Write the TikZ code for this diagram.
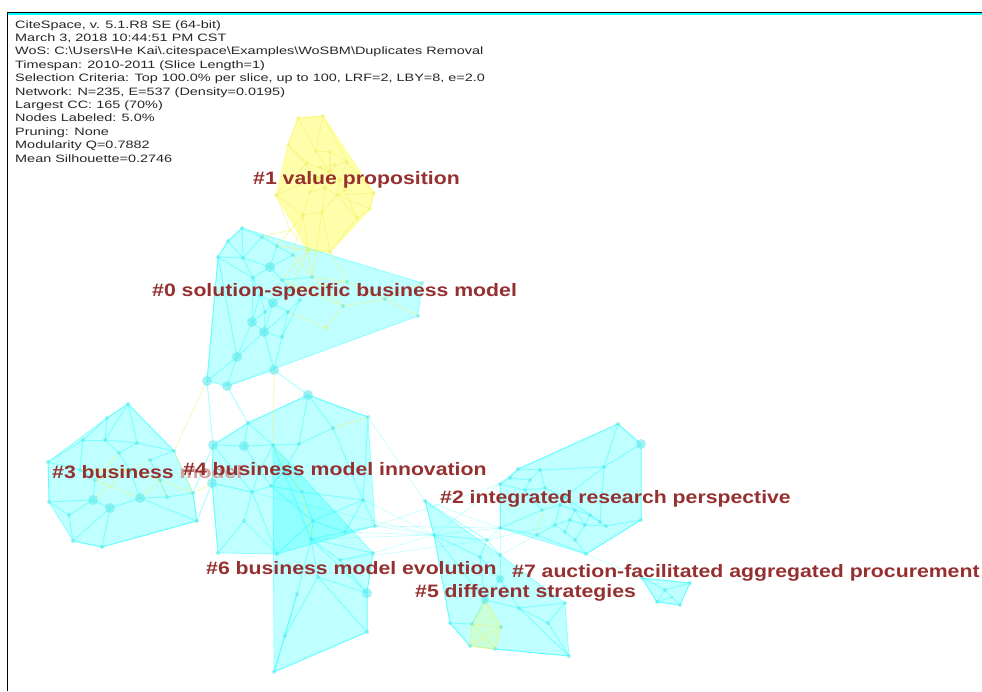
\documentclass[tikz,border=0pt]{standalone}
\usepackage{fontspec}
\setmainfont{Liberation Sans}
\definecolor{lblred}{RGB}{150,48,48}
\definecolor{cyn}{RGB}{0,255,255}
\definecolor{yel}{RGB}{255,255,0}
\definecolor{cnodec}{RGB}{90,230,235}
\definecolor{yedgec}{RGB}{240,240,110}
\definecolor{ynodec}{RGB}{240,240,100}
\begin{document}
\begin{tikzpicture}[x=1pt,y=-1pt,
  hullc/.style={fill=cyn, fill opacity=0.25, draw=cyn, draw opacity=0.35, line width=0.8pt, line join=round},
  hully/.style={fill=yel, fill opacity=0.33, draw=yel, draw opacity=0.35, line width=0.8pt, line join=round},
  hullys/.style={fill=yel, fill opacity=0.15, draw=yel, draw opacity=0.25, line width=0.8pt, line join=round},
  cedge/.style={draw=cyn, draw opacity=0.33, line width=1pt},
  fedge/.style={draw=cyn, draw opacity=0.22, line width=0.7pt},
  yedge/.style={draw=yedgec, draw opacity=0.4, line width=1.1pt},
  cnode/.style={fill=cnodec, fill opacity=0.55},
  ynode/.style={fill=ynodec, fill opacity=0.45},
  lbl/.style={font=\fontsize{18}{20}\selectfont\bfseries, text=lblred, anchor=base west, inner sep=0pt},
  info/.style={font=\fontsize{10.7}{13.4}\selectfont, text=black!85, anchor=base west, inner sep=0pt}]
\useasboundingbox (0,0) rectangle (982,691);
\newcommand{\wide}[1]{\scalebox{1.18}[1]{#1}}

% ---------- node positions ----------
\def\ynodes{y1/298/118/2, y2/323/116/2, y3/288/145/2, y4/316/151/2, y5/330/152/2, y6/347/162/2, y7/307/163/2, y8/330/172/3, y9/318/178/2.5, y10/340/180/2.5, y11/325/188/2, y12/337/195/2, y13/276/195/2, y14/374/193/2, y15/370/209/2, y16/357/218/2, y17/322/212/2, y18/303/215/2, y19/308/250/2, y20/330/252/2, y21/290/230/1.5, y22/335/165/2, y23/320/167/2, y24/345/190/2, y25/310/192/2, a26/326/328/2}
\def\cnodes{a1/242/228/2, a2/228/241/2, a3/262/237/2, a4/218/257/2, a5/243/258/2, a6/277/246/2, a7/293/255/2, a8/270/267/5, a9/253/278/2, a10/282/280/2, a11/312/277/2, a12/273/303/5, a13/288/312/2, a14/252/322/5, a15/264/332/5, a16/282/337/2, a17/237/357/5, a18/274/370/5, a19/207/381/5, a20/227/386/5, a21/343/306/2, a22/385/299/2, a23/422/283/2, a24/418/316/2, a25/347/282/2, a27/260/295/2, a28/290/290/2, a29/300/300/2, a30/265/312/2,
 b1/128/404/2, b2/107/418/2, b3/48/462/2, b4/49/502/2, b5/73/541/2, b6/102/547/2, b7/197/521/2, b8/174/451/2, b9/83/440/2, b10/105/440/2, b11/137/443/2, b12/119/453/2, b13/93/500/5, b14/110/508/5, b15/140/498/5, b16/69/515/2, b17/167/497/2, b18/193/493/2, b19/95/480/2, b20/130/470/2, b21/160/480/2, b22/150/460/2, b23/80/470/2,
 d1/213/445/5, d2/248/423/2, d3/308/395/5, d4/368/417/2, d5/375/526/2, d6/218/553/2, d7/244/446/5, d8/333/428/2, d9/273/445/2, d10/299/444/2, d11/252/492/2, d12/271/486/2, d13/302/492/2, d14/363/500/2, d15/244/521/2, d16/277/554/2, d17/313/521/2, d18/345/532/2, d19/212/483/5, d20/285/470/2, d21/260/470/2,
 e2/311/539/2, e3/318/577/2, e4/297/594/2, e5/285/636/2, e6/367/593/5, e7/367/632/2, e8/274/672/2, e9/373/553/2, e10/340/560/2,
 f1/518/469/2, f2/618/424/2, f3/641/444/5, f4/641/520/2, f5/586/554/2, f6/500/528/2, f7/500/484/2, f8/540/470/2, f9/510/478/2, f10/530/480/2, f11/525/490/2, f12/545/488/2, f13/565/497/2, f14/604/467/2, f15/560/505/2, f16/575/510/2, f17/590/515/2, f18/570/520/2, f19/555/525/2, f20/585/525/2, f21/600/522/2, f22/606/526/2, f23/575/540/2, f24/537/535/2, f25/565/532/2, f26/542/510/2,
 g1/425/501/2, g2/434/535/2, g3/450/623/2, g4/470/646/2, g5/569/656/2, g6/565/603/2, g7/487/540/2, g8/500/555/2, g9/480/557/2, g10/500/579/4, g11/485/600/4, g12/519/608/2, g13/548/623/2, g14/472/624/2, g15/501/627/2, g16/495/649/2,
 h1/642/578/2, h2/690/583/2, h3/680/605/2, h4/657/602/2, h5/665/590/2, h6/672/597/1.5}
\foreach \n/\x/\y/\r in \ynodes {\coordinate (\n) at (\x,\y);}
\foreach \n/\x/\y/\r in \cnodes {\coordinate (\n) at (\x,\y);}

% ---------- frame ----------
\draw[black, line width=1.6pt] (7.3,691) -- (7.3,12.3) -- (982,12.3);
\draw[cyn, line width=2pt] (8.2,14.4) -- (982,14.4);

% ---------- cluster hulls ----------
\filldraw[hully] (y1) -- (y2) -- (y14) -- (y15) -- (y20) -- (y19) -- (y13) -- (y3) -- cycle;
\filldraw[hullc] (a1) -- (a23) -- (a24) -- (a20) -- (a19) -- (a4) -- (a2) -- cycle;
\filldraw[hullc] (b1) -- (b8) -- (b18) -- (b7) -- (b6) -- (b5) -- (b4) -- (b3) -- (b2) -- cycle;
\filldraw[hullc] (d1) -- (d2) -- (d3) -- (d4) -- (d5) -- (d16) -- (d6) -- (d19) -- cycle;
\filldraw[hullc] (d9) -- (e9) -- (e6) -- (e7) -- (e8) -- cycle;
\filldraw[hullc] (f1) -- (f2) -- (f3) -- (f4) -- (f5) -- (f6) -- (f7) -- cycle;
\filldraw[hullc] (g1) -- (g8) -- (g6) -- (g5) -- (g16) -- (g4) -- (g3) -- (g2) -- cycle;
\filldraw[hullys] (g11) -- (g15) -- (g16) -- (g4) -- (g14) -- cycle;
\filldraw[hullc] (h1) -- (h2) -- (h3) -- (h4) -- cycle;

% ---------- edges ----------
\foreach \a/\b in {y1/y2, y1/y3, y2/y4, y1/y4, y2/y6, y3/y7, y4/y5, y5/y6, y7/y8, y4/y8, y5/y8, y6/y10, y8/y9, y8/y10, y9/y11, y10/y11, y11/y12, y10/y12, y9/y13, y13/y18, y12/y14, y12/y15, y14/y15, y15/y16, y16/y20, y17/y20, y17/y12, y18/y17, y18/y19, y19/y20, y13/y21, y21/y19, y11/y17, y3/y9, y6/y14, y16/y12, y7/y13, y22/y23, y22/y8, y23/y8, y22/y6, y24/y10, y24/y16, y25/y9, y25/y18, y24/y12, y25/y11,
  y19/a10, y19/a11, y20/a25, a25/a22, a22/a23, a22/a24, a11/a21, a21/a22, a21/a26, a11/a25, y18/a7, y17/a11, y19/a6, a7/a11, a28/a25, a10/a21, a13/a26, y21/a3, y18/a6, y19/a28,
  a19/b8, b19/b20, b20/b21, b21/b18, b13/b20, b22/b17, b15/b21, b20/b22, b19/b15, b23/b20, b12/b19, b8/b18,
  a18/d9, d8/d4, d9/d13, d13/e2, d19/b18,
  f26/f24, g11/g14, g11/g15, g14/g15, g14/g4, g15/g16, g4/g16, g14/g16, g4/g15}
  {\draw[yedge] (\a) -- (\b);}
\foreach \a/\b in {a1/a2, a1/a3, a2/a4, a2/a5, a1/a5, a3/a6, a3/a5, a4/a5, a5/a8, a6/a8, a6/a7, a7/a8, a4/a9, a5/a9, a8/a9, a8/a10, a9/a27, a10/a28, a27/a12, a28/a12, a12/a13, a12/a30, a30/a14, a13/a16, a14/a15, a15/a16, a14/a17, a15/a18, a17/a19, a17/a20, a18/a20, a16/a18, a12/a15, a13/a29, a27/a14, a17/a15, a4/a17, a10/a11, a9/a14, a27/a30, a30/a15, a29/a16, a13/a15, a4/a19,
  b1/b2, b1/b10, b1/b11, b1/b8, b2/b9, b2/b10, b3/b9, b3/b23, b3/b4, b9/b10, b10/b11, b10/b12, b11/b12, b11/b8, b9/b23, b23/b19, b19/b13, b4/b16, b16/b5, b5/b6, b13/b16, b13/b14, b14/b6, b14/b15, b15/b17, b17/b18, b18/b7, b7/b6, b7/b15, b14/b5, b12/b20, b20/b15, b8/b22, b22/b21, b21/b17, b4/b13,
  d1/d2, d1/d7, d2/d7, d2/d3, d2/d9, d3/d8, d3/d10, d8/d10, d9/d10, d7/d9, d7/d21, d9/d21, d10/d20, d21/d11, d21/d12, d20/d12, d20/d13, d11/d12, d12/d13, d13/d14, d8/d14, d4/d14, d14/d5, d14/d18, d18/d5, d17/d18, d13/d17, d11/d15, d15/d6, d15/d16, d16/d17, d1/d19, d19/d11, d19/d6, d1/d11, d11/d16, d17/d14, d12/d17, d3/d4,
  a18/d3, a20/d2, a19/d1, b18/d1, b7/d19,
  d9/e2, e2/e3, e2/e4, e2/e10, e2/e9, e2/e6, e3/e5, e4/e5, e5/e8, e8/e7, e7/e6, e6/e9, e3/e6, e4/e8, e2/d17, e2/d18, e10/e6, e3/e7, e9/e10,
  f1/f2, f2/f3, f2/f14, f3/f14, f3/f4, f14/f13, f14/f21, f4/f22, f4/f5, f5/f23, f5/f24, f6/f24, f6/f7, f7/f9, f9/f1, f1/f8, f8/f10, f9/f10, f10/f11, f11/f12, f12/f8, f12/f13, f13/f15, f15/f16, f16/f17, f17/f21, f21/f22, f22/f20, f20/f23, f23/f25, f25/f18, f18/f16, f18/f19, f19/f24, f19/f15, f15/f26, f26/f11, f6/f26, f7/f11, f20/f17, f13/f16, f18/f20, f25/f19, f16/f20, f13/f21, f8/f14,
  g1/g2, g1/g7, g2/g7, g2/g9, g7/g8, g7/g9, g8/g10, g9/g10, g10/g11, g11/g12, g12/g13, g13/g6, g13/g5, g6/g12, g2/g3, g3/g14, g14/g11, g3/g4, g16/g5, g10/g12, g12/g5, g9/g11, g2/g11,
  h1/h2, h2/h3, h3/h4, h4/h1, h1/h5, h5/h2, h5/h6, h6/h3, h4/h5, h6/h4}
  {\draw[cedge] (\a) -- (\b);}
\foreach \a/\b in {d5/g2, d5/f6, d14/g2, e9/g2, e2/g2, g2/f6, g2/f7, g1/f6, g7/f6, g8/f24, f5/h1, d18/g2, d19/g2, d4/g1, e10/g7, g7/f19, g8/f6, d5/f7}
  {\draw[fedge] (\a) -- (\b);}

% ---------- nodes ----------
\foreach \n/\x/\y/\r in \ynodes {\fill[ynode] (\n) circle[radius=\r pt];}
\foreach \n/\x/\y/\r in \cnodes {\fill[cnode] (\n) circle[radius=\r pt];}

% ---------- cluster labels ----------
\node[lbl] (l1) at (253,184.5) {\wide{\#1 value proposition}};
\node[lbl] (l0) at (152,296.5) {\wide{\#0 solution-specific business model}};
\node[lbl] (l3) at (52,478.5) {\wide{\#3 business {\color{lblred!45!white}model}}};
\node[lbl] (l4) at (183,475.5) {\wide{\#4 business model innovation}};
\node[lbl] (l2) at (440,503.5) {\wide{\#2 integrated research perspective}};
\node[lbl] (l6) at (206,574.5) {\wide{\#6 business model evolution}};
\node[lbl] (l7) at (512,577.5) {\wide{\#7 auction-facilitated aggregated procurement}};
\node[lbl] (l5) at (415,597.5) {\wide{\#5 different strategies}};

% ---------- info block ----------
\node[info] (meta) at (15,28) {\scalebox{1.35}[1]{\begin{tabular}[t]{@{}l@{}}
CiteSpace, v. 5.1.R8 SE (64-bit)\\
March 3, 2018 10:44:51 PM CST\\
WoS: C:\textbackslash Users\textbackslash He Kai\textbackslash .citespace\textbackslash Examples\textbackslash WoSBM\textbackslash Duplicates Removal\\
Timespan: 2010-2011 (Slice Length=1)\\
Selection Criteria: Top 100.0\% per slice, up to 100, LRF=2, LBY=8, e=2.0\\
Network: N=235, E=537 (Density=0.0195)\\
Largest CC: 165 (70\%)\\
Nodes Labeled: 5.0\%\\
Pruning: None\\
Modularity Q=0.7882\\
Mean Silhouette=0.2746
\end{tabular}}};
\end{tikzpicture}
\end{document}
